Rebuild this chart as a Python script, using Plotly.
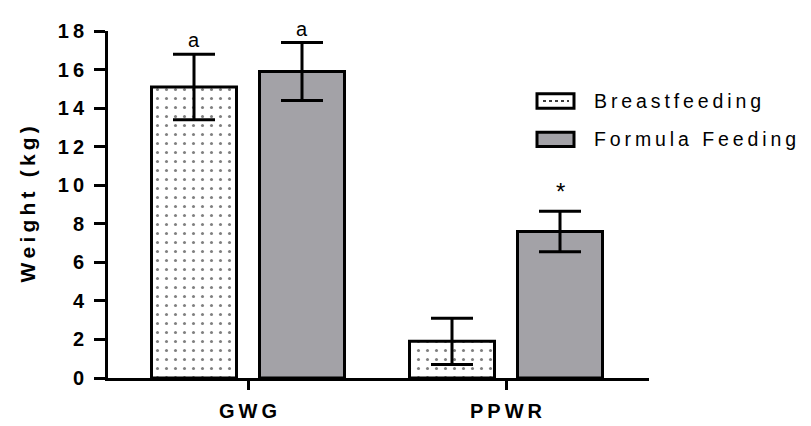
import plotly.graph_objects as go

groups = ["GWG", "PPWR"]
series = ["Breastfeeding", "Formula Feeding"]
bf_mean = [15.1, 1.9]
bf_err = [1.7, 1.2]
ff_mean = [15.9, 7.6]
ff_err = [1.5, 1.05]
labels_bf = ["a", ""]
labels_ff = ["a", "*"]
y_ticks = [0, 2, 4, 6, 8, 10, 12, 14, 16, 18]
y_title = "Weight (kg)"

TH = "\u2009"


def spaced(s, sep=TH):
    return sep.join("\u00a0" if c == " " else c for c in s)


FONT = "Liberation Sans, Arial, sans-serif"
GRAY = "#a3a2a7"
xs = [1, 2]
W = 85 / 258
OFF = 54 / 258

fig = go.Figure()
fig.add_trace(go.Bar(
    x=xs, y=bf_mean, name=series[0], width=W, offset=-OFF - W / 2,
    marker=dict(color="white", line=dict(color="black", width=3),
                pattern=dict(shape=".", fgcolor="black", bgcolor="white",
                             size=9, solidity=0.09)),
    error_y=dict(type="data", array=bf_err, color="black", thickness=3, width=21),
    showlegend=False,
))
fig.add_trace(go.Bar(
    x=xs, y=ff_mean, name=series[1], width=W, offset=OFF - W / 2,
    marker=dict(color=GRAY, line=dict(color="black", width=3)),
    error_y=dict(type="data", array=ff_err, color="black", thickness=3, width=21),
    showlegend=False,
))

# significance letters
for i, x in enumerate(xs):
    for lab, mean, err, off in ((labels_bf[i], bf_mean[i], bf_err[i], -OFF),
                                (labels_ff[i], ff_mean[i], ff_err[i], OFF)):
        if lab:
            fig.add_annotation(x=x + off, y=mean + err, text=lab, showarrow=False,
                               yanchor="bottom", yshift=1 if lab == "a" else 4,
                               font=dict(family=FONT, size=20 if lab == "a" else 24, color="black"))

# manual legend
leg_y = [(384 - 95) / 362, (384 - 135) / 362]
for k, name in enumerate(series):
    y0 = leg_y[k]
    fig.add_shape(type="rect", xref="paper", yref="paper",
                  x0=(529 - 100) / 541, x1=(566 - 100) / 541,
                  y0=y0 - 7.5 / 362, y1=y0 + 7.5 / 362,
                  line=dict(color="black", width=3),
                  fillcolor="white" if k == 0 else GRAY)
    if k == 0:
        fig.add_shape(type="line", xref="paper", yref="paper",
                      x0=(535 - 100) / 541, x1=(561 - 100) / 541, y0=y0, y1=y0,
                      line=dict(color="black", width=1.5, dash="dot"))
    fig.add_annotation(xref="paper", yref="paper", x=(584 - 100) / 541, y=y0,
                       xanchor="left", yanchor="middle", showarrow=False,
                       text=spaced(name),
                       font=dict(family=FONT, size=19.5, color="black"))

fig.add_annotation(xref="paper", yref="paper", x=0, xshift=-81, y=0.5,
                   xanchor="center", yanchor="middle", textangle=-90, showarrow=False,
                   text=spaced(y_title),
                   font=dict(family=FONT, size=21, color="black", weight="bold"))

fig.update_layout(
    width=811, height=426,
    margin=dict(l=100, r=170, t=22, b=42),
    plot_bgcolor="white", paper_bgcolor="white",
    barmode="overlay",
    font=dict(family=FONT, color="black"),
)
fig.update_xaxes(
    range=[1 - 140 / 258, 2 + 143 / 258], tickvals=xs,
    ticktext=[spaced(g) for g in groups],
    showline=True, linecolor="black", linewidth=3, ticks="outside", ticklen=9,
    tickwidth=3, tickcolor="black", showgrid=False, zeroline=False,
    ticklabelstandoff=4,
    tickfont=dict(family=FONT, size=20, color="black", weight="bold"),
)
fig.update_yaxes(
    range=[0, 18], tickvals=y_ticks, ticktext=[spaced(str(t)) for t in y_ticks],
    showline=True, linecolor="black", linewidth=3, ticks="outside", ticklen=11,
    tickwidth=3, tickcolor="black", showgrid=False, zeroline=False,
    ticklabelstandoff=6,
    tickfont=dict(family=FONT, size=20, color="black", weight="bold"),
)

fig.write_html("out.html")
